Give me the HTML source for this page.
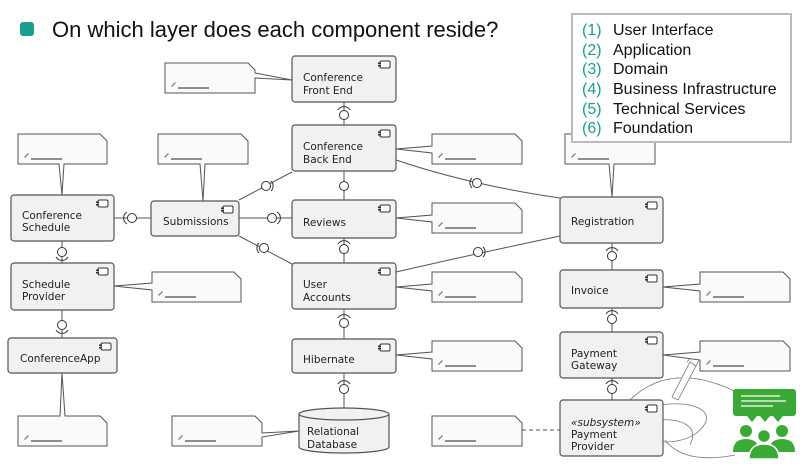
<!DOCTYPE html>
<html><head><meta charset="utf-8"><style>
html,body{margin:0;padding:0;background:#fff;width:805px;height:472px;overflow:hidden}
svg{display:block}
.c{fill:#f1f1f1;stroke:#555;stroke-width:1.2}
.n{fill:#fafafa;stroke:#555;stroke-width:1}
.t{font-family:"DejaVu Sans",sans-serif;font-size:10.5px;fill:#222}
.l{stroke:#555;stroke-width:1;fill:none}
.ic{fill:#fff;stroke:#333;stroke-width:1}
.u{stroke:#222;stroke-width:1}
</style></head><body>
<svg width="805" height="472" viewBox="0 0 805 472" xmlns="http://www.w3.org/2000/svg">
<defs>
<g id="icon"><rect x="0" y="0" width="10" height="7" rx="1.5" class="ic"/><rect x="-2" y="1.5" width="3" height="1.5" fill="#333"/><rect x="-2" y="4" width="3" height="1.5" fill="#333"/></g>
<g id="pen"><path d="M0,4 L4,0 L5,1 L1,5 Z" fill="#888"/></g>
</defs>
<!-- title -->
<rect x="20" y="22" width="14" height="14" rx="3" fill="#1a9e8f"/>
<text x="52" y="37" font-family="Liberation Sans, sans-serif" font-size="22" fill="#111">On which layer does each component reside?</text>

<!-- connectors -->
<g class="l">
<line x1="344" y1="102" x2="344" y2="125"/>
<line x1="344" y1="171" x2="344" y2="200"/>
<line x1="344" y1="238" x2="344" y2="263"/>
<line x1="344" y1="309" x2="344" y2="339"/>
<line x1="344" y1="373" x2="344" y2="408"/>
<line x1="113" y1="218" x2="151" y2="218"/>
<line x1="239" y1="218" x2="292" y2="218"/>
<line x1="239" y1="200" x2="292" y2="172"/>
<line x1="239" y1="236" x2="292" y2="264"/>
<line x1="62" y1="241" x2="62" y2="263"/>
<line x1="62" y1="310" x2="62" y2="338"/>
<path d="M396,160 Q470,185 560,198"/>
<path d="M396,272 Q470,255 560,236"/>
<line x1="612" y1="243" x2="612" y2="270"/>
<line x1="612" y1="308" x2="612" y2="332"/>
<line x1="612" y1="378" x2="612" y2="400"/>
<line x1="522" y1="430" x2="560" y2="430" stroke-dasharray="4,3"/>
</g>
<!-- interface circles -->
<g fill="#fff" stroke="#333" stroke-width="1">
<circle cx="344" cy="115" r="4.5"/><path d="M338,110 A7,7 0 0 1 350,110" fill="none"/>
<circle cx="344" cy="186" r="4.5"/>
<circle cx="344" cy="249" r="4.5"/><path d="M338,244 A7,7 0 0 1 350,244" fill="none"/>
<circle cx="344" cy="323" r="4.5"/><path d="M338,318 A7,7 0 0 1 350,318" fill="none"/>
<circle cx="344" cy="389" r="4.5"/><path d="M338,384 A7,7 0 0 1 350,384" fill="none"/>
<circle cx="132" cy="218" r="4.5"/><path d="M127,212 A7,7 0 0 0 127,224" fill="none"/>
<circle cx="272" cy="218" r="4.5"/><path d="M277,212 A7,7 0 0 1 277,224" fill="none"/>
<circle cx="266" cy="186" r="4.5"/><path d="M271,181 A7,7 0 0 1 271,191" fill="none"/>
<circle cx="264" cy="248" r="4.5"/><path d="M259,243 A7,7 0 0 0 259,253" fill="none"/>
<circle cx="62" cy="252" r="4.5"/><path d="M56,257 A7,7 0 0 0 68,257" fill="none"/>
<circle cx="62" cy="325" r="4.5"/><path d="M56,330 A7,7 0 0 0 68,330" fill="none"/>
<circle cx="477" cy="183" r="4.5"/><path d="M472,178 A7,7 0 0 0 472,188" fill="none"/>
<circle cx="478" cy="252" r="4.5"/><path d="M483,247 A7,7 0 0 1 483,257" fill="none"/>
<circle cx="612" cy="256" r="4.5"/><path d="M606,251 A7,7 0 0 1 618,251" fill="none"/>
<circle cx="612" cy="319" r="4.5"/><path d="M606,314 A7,7 0 0 1 618,314" fill="none"/>
<circle cx="612" cy="389" r="4.5"/><path d="M606,384 A7,7 0 0 1 618,384" fill="none"/>
</g>

<!-- hand sketch -->
<g stroke="#777" stroke-width="0.8" fill="none">
<path d="M630,400 C650,380 680,370 720,385 C740,392 750,400 735,405"/>
<path d="M660,405 C690,400 720,410 700,430 C690,440 670,445 650,440"/>
<path d="M655,420 C680,418 700,425 690,445"/>
<path d="M665,440 C680,460 710,460 735,455"/>
<path d="M672,397 L690,362 L696,366 L678,400 Z" fill="#fff"/>
<path d="M687,362 L693,355 L699,360 L696,366"/>
</g>

<!-- components -->
<g>
<rect class="c" x="292" y="56" width="104" height="46" rx="3"/><use href="#icon" x="380" y="61"/>
<text class="t" x="303" y="81">Conference</text><text class="t" x="303" y="94">Front End</text>
<rect class="c" x="292" y="125" width="104" height="46" rx="3"/><use href="#icon" x="380" y="130"/>
<text class="t" x="303" y="150">Conference</text><text class="t" x="303" y="163">Back End</text>
<rect class="c" x="292" y="200" width="104" height="38" rx="3"/><use href="#icon" x="380" y="205"/>
<text class="t" x="303" y="226">Reviews</text>
<rect class="c" x="292" y="263" width="104" height="46" rx="3"/><use href="#icon" x="380" y="268"/>
<text class="t" x="303" y="288">User</text><text class="t" x="303" y="301">Accounts</text>
<rect class="c" x="292" y="339" width="104" height="34" rx="3"/><use href="#icon" x="380" y="344"/>
<text class="t" x="303" y="363">Hibernate</text>
<path class="c" d="M299,414 L299,447 A45,6 0 0 0 389,447 L389,414"/>
<ellipse class="c" cx="344" cy="414" rx="45" ry="6"/>
<text class="t" x="307" y="435">Relational</text><text class="t" x="307" y="448">Database</text>
<rect class="c" x="11" y="195" width="103" height="46" rx="3"/><use href="#icon" x="98" y="200"/>
<text class="t" x="22" y="219">Conference</text><text class="t" x="22" y="231">Schedule</text>
<rect class="c" x="151" y="201" width="88" height="35" rx="3"/><use href="#icon" x="240" y="206" transform="translate(-17,0)"/>
<text class="t" x="163" y="225">Submissions</text>
<rect class="c" x="11" y="263" width="103" height="47" rx="3"/><use href="#icon" x="98" y="268"/>
<text class="t" x="22" y="288">Schedule</text><text class="t" x="22" y="300">Provider</text>
<rect class="c" x="8" y="338" width="109" height="35" rx="3"/><use href="#icon" x="101" y="343"/>
<text class="t" x="20" y="362">ConferenceApp</text>
<rect class="c" x="560" y="197" width="103" height="46" rx="3"/><use href="#icon" x="647" y="202"/>
<text class="t" x="571" y="225">Registration</text>
<rect class="c" x="560" y="270" width="103" height="38" rx="3"/><use href="#icon" x="647" y="275"/>
<text class="t" x="571" y="294">Invoice</text>
<rect class="c" x="560" y="332" width="103" height="46" rx="3"/><use href="#icon" x="647" y="337"/>
<text class="t" x="571" y="357">Payment</text><text class="t" x="571" y="369">Gateway</text>
<rect class="c" x="560" y="400" width="103" height="56" rx="3"/><use href="#icon" x="647" y="405"/>
<text class="t" x="571" y="426" font-style="italic">«subsystem»</text>
<text class="t" x="571" y="438">Payment</text><text class="t" x="571" y="450">Provider</text>
</g>

<!-- notes -->
<g>
<!-- front end -->
<path class="n" d="M165,63 L248,63 L255,70 L255,73 L292,80 L255,78 L255,93 L165,93 Z"/>
<!-- schedule -->
<path class="n" d="M18,134 L100,134 L107,141 L107,164 L64,164 L62,195 L59,164 L18,164 Z"/>
<!-- submissions -->
<path class="n" d="M158,134 L241,134 L248,141 L248,164 L205,164 L203,201 L200,164 L158,164 Z"/>
<!-- back end -->
<path class="n" d="M432,134 L515,134 L522,141 L522,164 L432,164 L432,153 L396,149 L432,146 Z"/>
<!-- reviews -->
<path class="n" d="M432,203 L515,203 L522,210 L522,233 L432,233 L432,222 L396,218 L432,215 Z"/>
<!-- user accounts -->
<path class="n" d="M432,272 L515,272 L522,279 L522,302 L432,302 L432,291 L396,287 L432,284 Z"/>
<!-- hibernate -->
<path class="n" d="M432,341 L515,341 L522,348 L522,371 L432,371 L432,359 L396,355 L432,352 Z"/>
<!-- schedule provider -->
<path class="n" d="M152,272 L234,272 L241,279 L241,302 L152,302 L152,290 L114,286 L152,283 Z"/>
<!-- conference app -->
<path class="n" d="M18,416 L60,416 L62,373 L65,416 L100,416 L107,423 L107,446 L18,446 Z"/>
<!-- database -->
<path class="n" d="M172,416 L255,416 L262,423 L262,433 L299,431 L262,437 L262,446 L172,446 Z"/>
<!-- payment provider -->
<path class="n" d="M432,416 L515,416 L522,423 L522,446 L432,446 Z"/>
<!-- registration -->
<path class="n" d="M565,134 L648,134 L655,141 L655,164 L614,164 L612,197 L609,164 L565,164 Z"/>
<!-- invoice -->
<path class="n" d="M700,272 L783,272 L790,279 L790,302 L700,302 L700,291 L663,287 L700,284 Z"/>
<!-- payment gateway -->
<path class="n" d="M700,341 L783,341 L790,348 L790,371 L700,371 L700,360 L663,355 L700,352 Z"/>
</g>
<!-- note content: pencil + underline -->
<g>
<use href="#pen" x="171" y="82"/><line class="u" x1="178" y1="88" x2="209" y2="88"/>
<use href="#pen" x="24" y="153"/><line class="u" x1="31" y1="159" x2="62" y2="159"/>
<use href="#pen" x="164" y="153"/><line class="u" x1="171" y1="159" x2="202" y2="159"/>
<use href="#pen" x="438" y="153"/><line class="u" x1="445" y1="159" x2="476" y2="159"/>
<use href="#pen" x="438" y="222"/><line class="u" x1="445" y1="228" x2="476" y2="228"/>
<use href="#pen" x="438" y="291"/><line class="u" x1="445" y1="297" x2="476" y2="297"/>
<use href="#pen" x="438" y="360"/><line class="u" x1="445" y1="366" x2="476" y2="366"/>
<use href="#pen" x="158" y="291"/><line class="u" x1="165" y1="297" x2="196" y2="297"/>
<use href="#pen" x="24" y="435"/><line class="u" x1="31" y1="441" x2="62" y2="441"/>
<use href="#pen" x="178" y="435"/><line class="u" x1="185" y1="441" x2="216" y2="441"/>
<use href="#pen" x="438" y="435"/><line class="u" x1="445" y1="441" x2="476" y2="441"/>
<use href="#pen" x="571" y="153"/><line class="u" x1="578" y1="159" x2="609" y2="159"/>
<use href="#pen" x="706" y="291"/><line class="u" x1="713" y1="297" x2="744" y2="297"/>
<use href="#pen" x="706" y="360"/><line class="u" x1="713" y1="366" x2="744" y2="366"/>
</g>

<!-- legend -->
<rect x="572" y="14" width="219" height="128" fill="#fff" stroke="#bbb" stroke-width="2"/>
<g font-family="Liberation Sans, sans-serif" font-size="16">
<g fill="#1a9e8f">
<text x="582" y="35">(1)</text><text x="582" y="55">(2)</text><text x="582" y="74">(3)</text>
<text x="582" y="94">(4)</text><text x="582" y="114">(5)</text><text x="582" y="133">(6)</text>
</g>
<g fill="#111">
<text x="613" y="35">User Interface</text><text x="613" y="55">Application</text><text x="613" y="74">Domain</text>
<text x="613" y="94">Business Infrastructure</text><text x="613" y="114">Technical Services</text><text x="613" y="133">Foundation</text>
</g>
</g>

<!-- green discussion icon -->
<g fill="#3aa935">
<rect x="733" y="389" width="63" height="27" rx="3"/>
<path d="M747,416 L752,422 L757,416 Z M760,416 L765,422 L770,416 Z M773,416 L778,422 L783,416 Z"/>
<circle cx="746" cy="431" r="6"/><circle cx="782" cy="431" r="6"/>
<path d="M733,452 Q733,439 746,439 Q759,439 759,452 Z"/>
<path d="M769,452 Q769,439 782,439 Q795,439 795,452 Z"/>
<circle cx="764" cy="436" r="6.5" stroke="#fff" stroke-width="1.5"/>
<path d="M749,459 Q749,444 764,444 Q779,444 779,459 Z" stroke="#fff" stroke-width="1.5"/>
</g>
<g stroke="#fff" stroke-width="1.3">
<line x1="741" y1="396" x2="780" y2="396"/><line x1="741" y1="401" x2="786" y2="401"/><line x1="741" y1="406" x2="773" y2="406"/>
</g>
</svg>
</body></html>
